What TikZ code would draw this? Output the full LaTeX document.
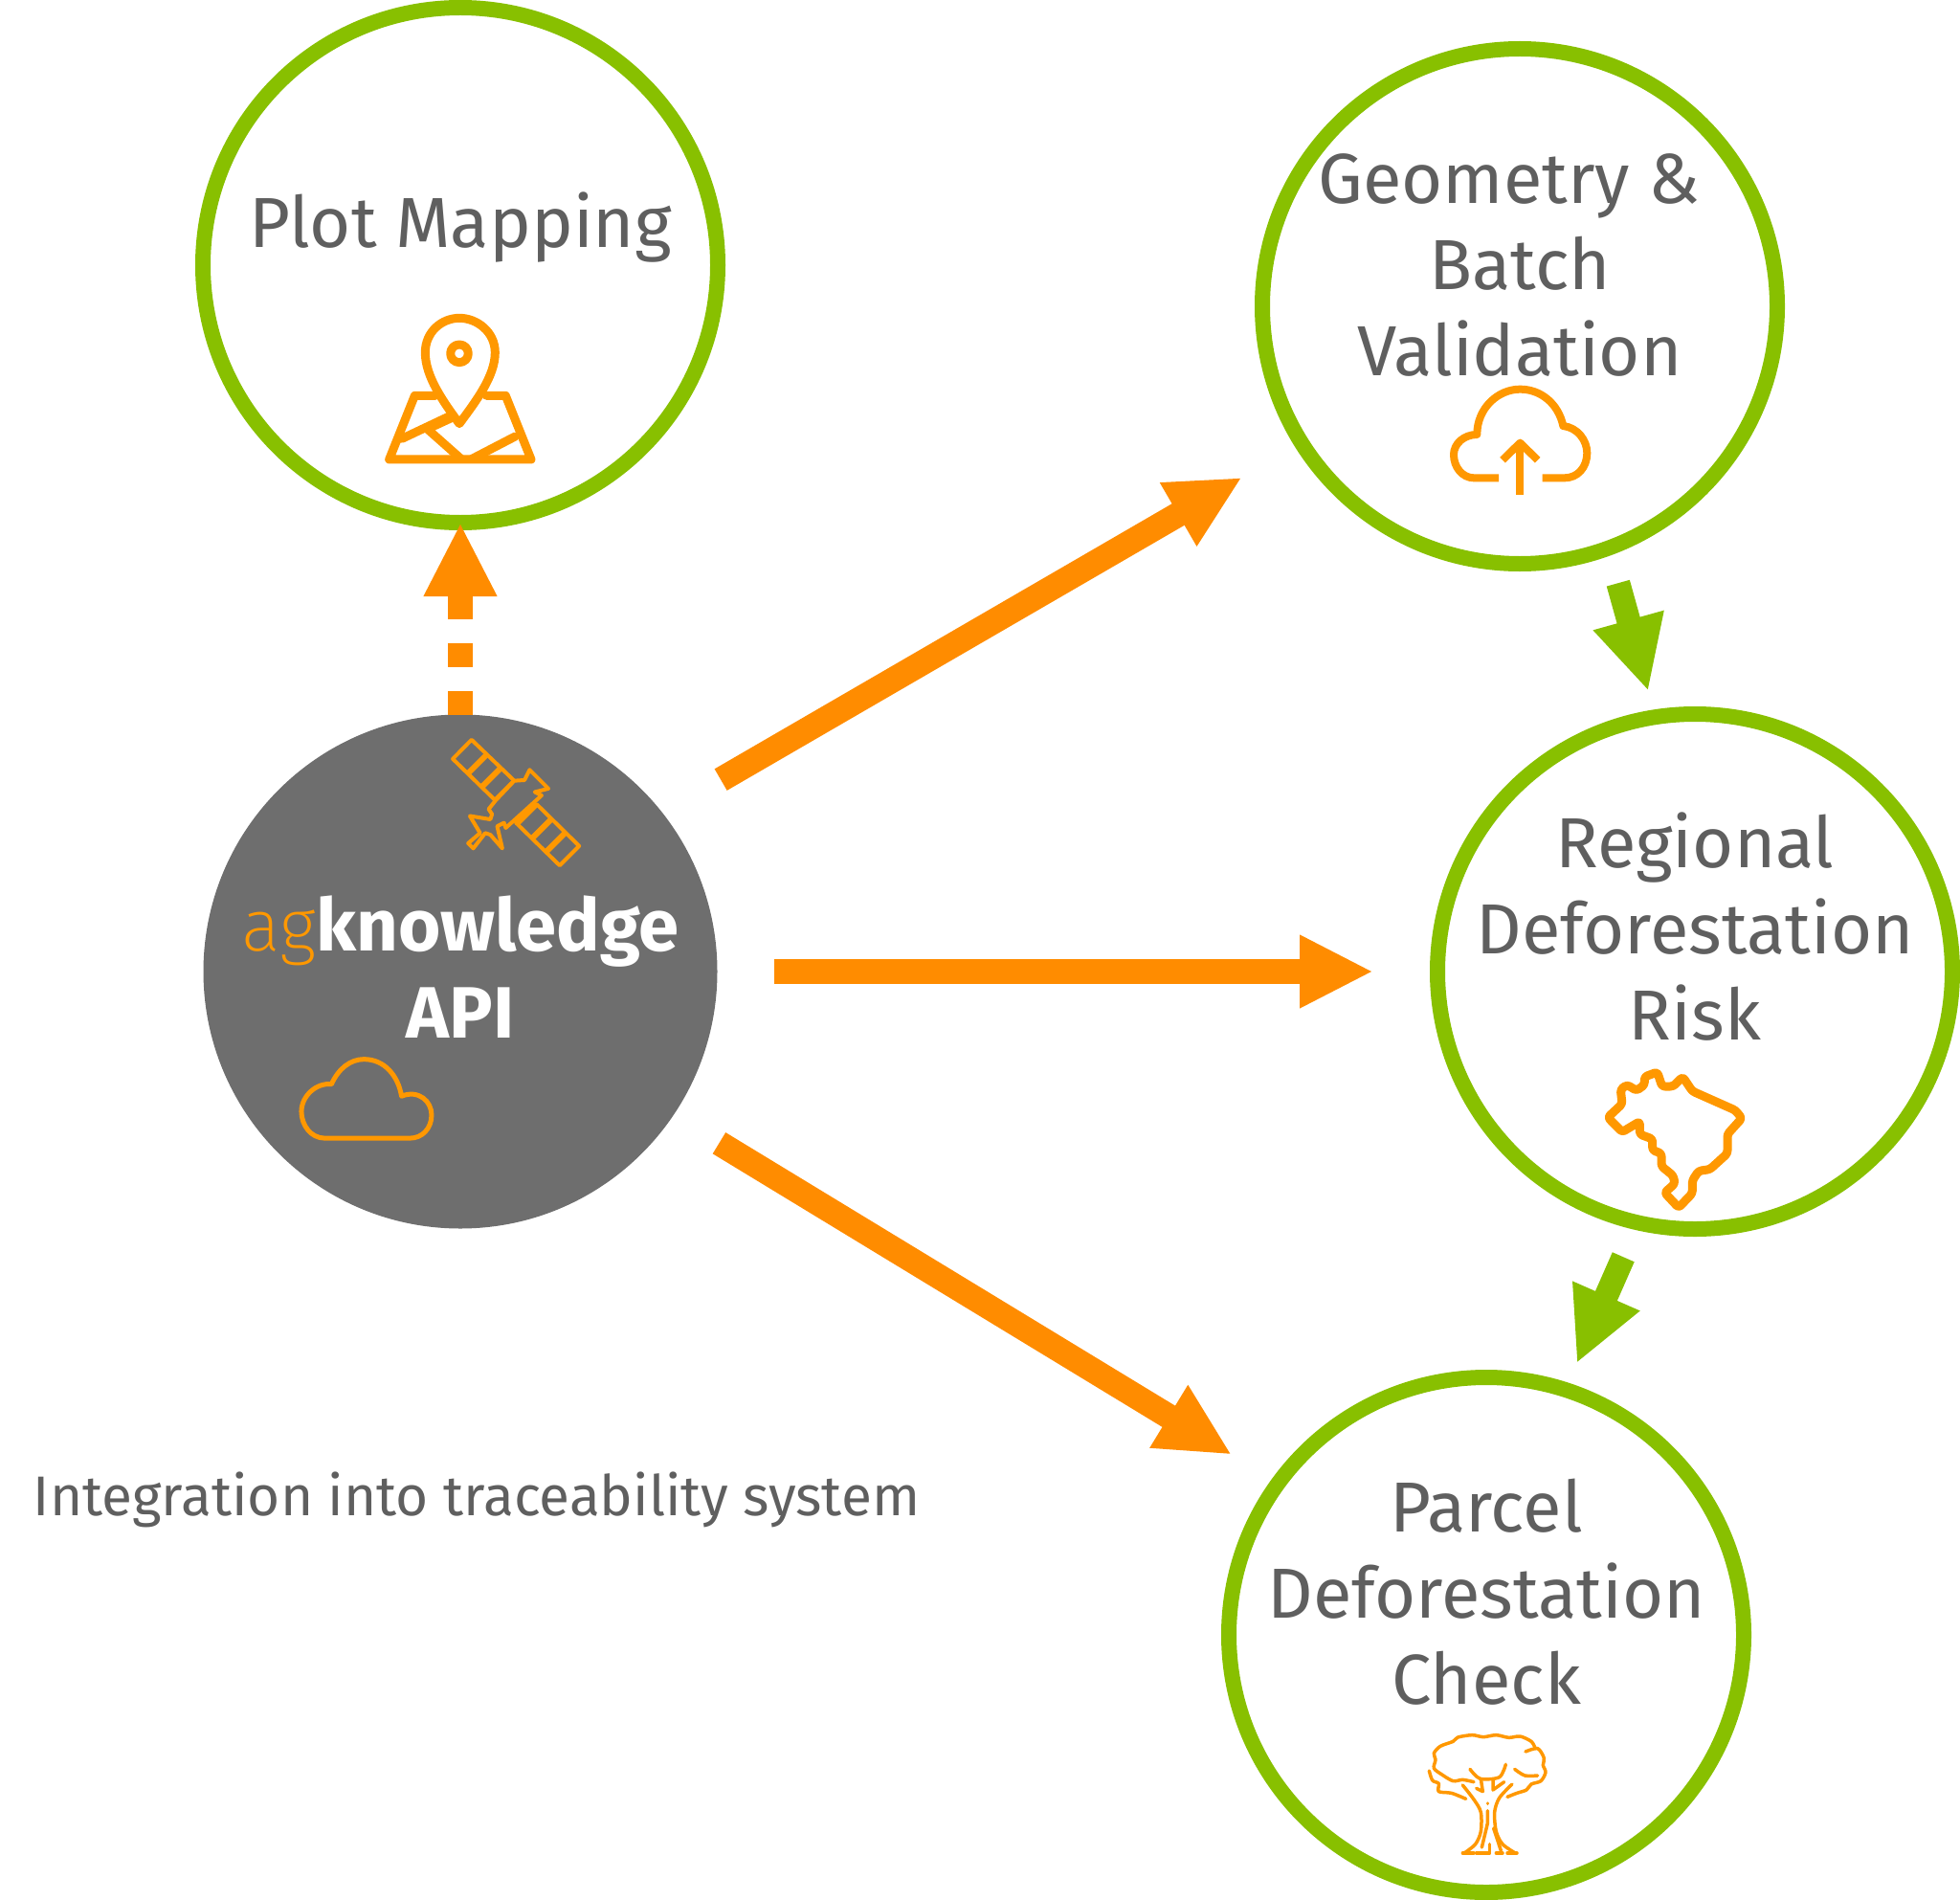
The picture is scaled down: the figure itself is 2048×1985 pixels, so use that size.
\documentclass[tikz,border=0pt]{standalone}
\usepackage{fontspec}
\setmainfont{Fira Sans}
\newfontfamily\thinfont{Fira Sans ExtraLight}
\usetikzlibrary{arrows.meta,positioning}
\definecolor{leafgreen}{HTML}{88C000}
\definecolor{flowgold}{HTML}{FF8C00}
\definecolor{icongold}{HTML}{FF9800}
\definecolor{apigray}{HTML}{6E6E6E}
\definecolor{labelgray}{HTML}{5F5F5F}
\tikzset{
	stage/.style={circle,draw=leafgreen,line width=16pt,minimum size=538pt,inner sep=0pt},
	apicircle/.style={circle,fill=apigray,minimum size=537pt,inner sep=0pt,outer sep=0pt},
	stagelabel/.style={font=\fontsize{74}{90}\selectfont,text=labelgray,align=center,inner sep=0pt},
	flow/.style={line width=26pt,draw=flowgold,-{Triangle[length=77pt,width=71pt]},flowgold},
	check/.style={line width=25pt,draw=leafgreen,-{Triangle[length=77pt,width=71pt]},leafgreen},
	iconline/.style={draw=icongold,line width=9pt,line join=round,line cap=round},
	finehair/.style={draw=icongold,line width=3.5pt,line join=round,line cap=round},
}
\begin{document}
\begin{tikzpicture}[x=1pt,y=-1pt]
	\useasboundingbox (0,0) rectangle (2048,1985);
	% circles
	\node [stage] (plot) at (481,277) {};
	\node [stage] (geometry) at (1588,320) {};
	\node [stage] (regional) at (1771,1015) {};
	\node [stage] (parcel) at (1553,1708) {};
	\node [apicircle] (api) at (481,1015) {};
	% texts
	\node [stagelabel] (plotlabel) at (481,238) {Plot Mapping};
	\node [stagelabel] (geometrylabel) at (1588,277) {Geometry \&\hspace*{22pt}\\Batch\\Validation};
	\node [stagelabel] (regionallabel) at (1771,968) {Regional\\Deforestation\\Risk};
	\node [stagelabel] (parcellabel) at (1553,1663) {Parcel\\Deforestation\\Check};
	\node [stagelabel,text=white,font=\fontsize{76}{91}\selectfont\bfseries] (apilabel) at (481,1010) {{\thinfont\mdseries\color{icongold}ag}knowledge\\API};
	\node [stagelabel,font=\fontsize{58.5}{60}\selectfont] (systemlabel) at (498,1567) {Integration into traceability system};
	% connectors
	\draw [flow,dash pattern=on 25pt off 25pt,shorten >=-8pt] (api.north) -- (plot.south);
	\draw [flow,shorten <=70pt,shorten >=64pt] (api.38.9) -- (geometry.212.8);
	\draw [flow,shorten <=59pt,shorten >=59pt] (api.east) -- (regional.west);
	\draw [flow,shorten <=56pt,shorten >=49pt] (api.-34.2) -- (parcel.144.8);
	\draw [check,shorten <=30pt,shorten >=20pt] (geometry.-70.2) -- (regional.99.1);
	\draw [check,shorten <=31pt,shorten >=22pt] (regional.-103.8) -- (parcel.72.3);
	% map pin
	\begin{scope}[shift={(380,300)},scale=0.3333]
		\draw [iconline] (300,428) .. controls (250,360) and (193,280) .. (193,205) .. controls (193,140) and (245,97) .. (300,97) .. controls (355,97) and (412,140) .. (412,205) .. controls (412,280) and (350,360) .. (300,428) -- cycle;
		\draw [iconline] (300,208) circle (28);
		\draw [iconline] (225,340) -- (160,340) -- (80,540) -- (525,540) -- (445,340) -- (385,340);
		\draw [iconline] (120,475) -- (268,405);
		\draw [iconline] (200,445) -- (305,538);
		\draw [iconline] (210,440) -- (275,410);
		\draw [iconline] (340,538) -- (475,468);
	\end{scope}
	% cloud with arrow
	\begin{scope}[shift={(1480,380)},scale=0.3333]
		\draw [iconline,line width=8pt,line cap=butt] (258,358) -- (180,358) .. controls (145,358) and (117,325) .. (117,285) .. controls (117,250) and (150,222) .. (190,222) .. controls (190,140) and (255,80) .. (325,80) .. controls (390,80) and (445,125) .. (460,195) .. controls (505,200) and (535,240) .. (535,280) .. controls (535,325) and (505,358) .. (465,358) -- (395,358);
		\draw [iconline,line width=8pt,line cap=butt] (325,412) -- (325,250);
		\draw [iconline,line width=8pt,line cap=butt] (270,302) -- (325,248) -- (380,302);
	\end{scope}
	% brazil
	\begin{scope}[shift={(1650,1090)},scale=0.3333]
		\draw [iconline,rounded corners=3pt] (90,232) -- (135,190) -- (130,145) -- (150,130) -- (180,148) -- (205,130) -- (205,105) -- (245,90) -- (260,135) -- (295,135) -- (325,105) -- (355,150) -- (490,210) -- (510,235) -- (465,285) -- (465,345) -- (410,395) -- (375,400) -- (355,430) -- (355,470) -- (312,515) -- (268,468) -- (300,440) -- (295,415) -- (258,385) -- (258,345) -- (230,335) -- (230,300) -- (190,285) -- (190,245) -- (135,278) -- cycle;
	\end{scope}
	% tree
	\begin{scope}[shift={(1460,1790)},scale=0.3333]
		\draw [finehair] plot [smooth] coordinates {(240,215) (205,208) (175,212) (140,192) (115,172) (120,145) (115,125) (135,103) (175,88) (190,75) (235,68) (270,74) (310,68) (350,76) (385,72) (420,88) (432,108)};
		\draw [finehair] plot [smooth] coordinates {(402,120) (440,110) (460,140) (457,162) (465,185) (450,212) (420,222) (405,240) (375,250) (345,262)};
		\draw [finehair] plot [smooth] coordinates {(100,180) (110,210) (130,220) (130,245) (170,250) (215,268)};
		\draw [finehair] plot [smooth] coordinates {(228,175) (260,205) (320,200) (340,160)};
		\draw [finehair] plot [smooth] coordinates {(368,175) (400,195) (440,195)};
		\draw [finehair] plot [smooth] coordinates {(205,225) (240,270) (262,310) (262,370) (245,410) (210,438)};
		\draw [finehair] plot [smooth] coordinates {(360,222) (320,265) (305,310) (310,370) (330,410) (370,438)};
		\draw [finehair] (262,205) -- (268,245) -- (248,235);
		\draw [finehair] (300,210) -- (300,240) -- (335,215);
		\draw [finehair] (205,438) -- (240,438);
		\draw [finehair] (248,438) -- (290,438) -- (290,410);
		\draw [finehair] (310,438) -- (330,438);
		\draw [finehair] (345,438) -- (375,438);
		\draw [finehair] (283,305) -- (283,345) -- (265,420);
		\draw [finehair] (302,360) -- (325,430);
		\draw [finehair] (283,282) -- (283,283);
	\end{scope}
	% satellite
	\begin{scope}[shift={(200,740)},scale=0.357]
		\draw [finehair,line width=4pt] (820,92) -- (765,148) -- (890,270) -- (945,212) -- cycle;
		\draw [finehair,line width=4pt] (1010,280) -- (950,335) -- (1078,460) -- (1135,403) -- cycle;
		\foreach \sx/\sy in {810/190,850/230,892/268,955/335,1000/378,1040/418} {
			\draw [draw=icongold,line width=6pt] (\sx,\sy) -- ++(52,-52);
		}
		\draw [finehair,line width=4pt,fill=apigray] (890,270) -- (945,212) -- (975,210) -- (990,180) -- (1045,235) -- (1005,245) -- (1025,255) -- (920,350) -- (915,335) -- (895,345) -- (910,410) -- (875,370) -- (860,365) -- (825,410) -- (810,395) -- (845,365) -- (815,315) -- (875,325) -- (880,310) -- (870,295) -- cycle;
	\end{scope}
	% api cloud
	\begin{scope}[shift={(200,740)},scale=0.357]
		\draw [iconline,line width=5pt] (390,1258) .. controls (350,1258) and (322,1220) .. (322,1180) .. controls (322,1135) and (365,1095) .. (410,1100) .. controls (430,1055) and (465,1027) .. (505,1027) .. controls (565,1027) and (605,1075) .. (615,1135) .. controls (665,1115) and (703,1150) .. (703,1190) .. controls (703,1230) and (675,1258) .. (640,1258) -- cycle;
	\end{scope}
\end{tikzpicture}
\end{document}
